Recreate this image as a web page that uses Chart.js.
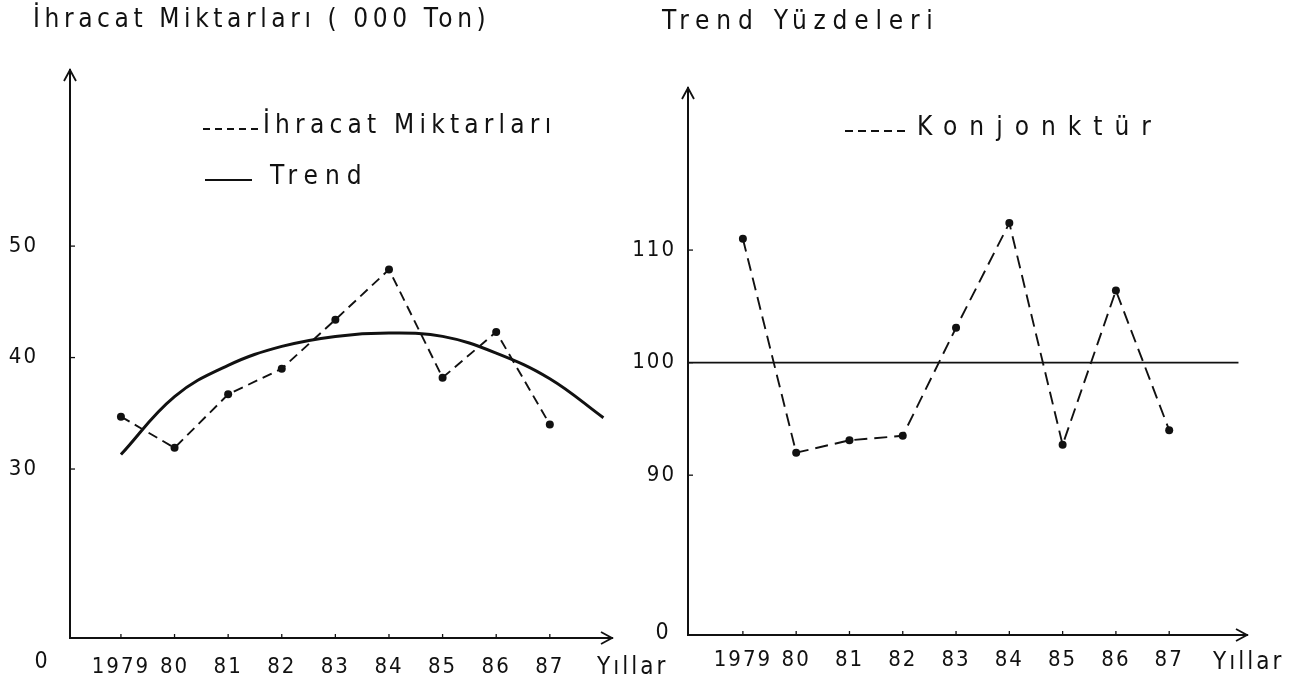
<!DOCTYPE html>
<html>
<head>
<meta charset="utf-8">
<script src="https://cdn.jsdelivr.net/npm/chart.js@4.4.1/dist/chart.umd.min.js"></script>
<style>
  html, body { margin: 0; padding: 0; background: #fff; }
  #wrap { position: relative; width: 1298px; height: 690px; overflow: hidden; }
  canvas { position: absolute; top: 0; }
</style>
</head>
<body>
<div id="wrap">
  <canvas id="leftChart" width="700" height="690" style="left:0"></canvas>
  <canvas id="rightChart" width="708" height="690" style="left:590px"></canvas>
</div>
<script>
// values
var years = [1979, 1980, 1981, 1982, 1983, 1984, 1985, 1986, 1987];
var yearLabels = ['1979', '80', '81', '82', '83', '84', '85', '86', '87'];
var ihracat = [34.7, 31.9, 36.7, 39.0, 43.4, 47.9, 38.2, 42.3, 34.0];
var trendYears = [1979, 1980, 1981, 1982, 1983, 1984, 1985, 1986, 1987, 1988];
var trend = [31.3, 36.5, 39.3, 41.0, 41.9, 42.2, 41.9, 40.4, 38.1, 34.6];
var konjonktur = [111.0, 92.0, 93.1, 93.5, 103.1, 112.4, 92.7, 106.4, 94.0];
var baseYears = [1977.97, 1988.3];
var baseValues = [100, 100];
var leftTicks = [30, 40, 50];
var rightTicks = [90, 100, 110];

var FONT = "'Liberation Sans Narrow', 'DejaVu Sans Condensed', 'DejaVu Sans', sans-serif";
var INK = '#111';

function spaced(ctx, text, x, y, size, spacing, align) {
  ctx.save();
  ctx.font = size + 'px ' + FONT;
  ctx.letterSpacing = spacing + 'px';
  ctx.textAlign = align || 'left';
  ctx.textBaseline = 'middle';
  ctx.fillStyle = INK;
  ctx.fillText(text, x, y);
  ctx.restore();
}

function line(ctx, pts, w, dash) {
  ctx.save();
  ctx.strokeStyle = INK;
  ctx.lineWidth = w;
  ctx.setLineDash(dash || []);
  ctx.beginPath();
  ctx.moveTo(pts[0][0], pts[0][1]);
  for (var i = 1; i < pts.length; i++) ctx.lineTo(pts[i][0], pts[i][1]);
  ctx.stroke();
  ctx.restore();
}

// arrows, titles, legends and the extra axis texts
function decor(opts) {
  return {
    id: 'decor',
    beforeDraw: function (chart) {
      chart.ctx.letterSpacing = '2px';
    },
    afterDraw: function (chart) {
      var ctx = chart.ctx, a = chart.chartArea;
      var xs = chart.scales.x, ys = chart.scales.y;
      // arrow heads
      line(ctx, [[a.left - 6, a.top + 11], [a.left, a.top], [a.left + 6, a.top + 11]], 1.8);
      line(ctx, [[a.right - 11, a.bottom - 6], [a.right, a.bottom], [a.right - 11, a.bottom + 6]], 1.8);
      // small tick marks
      years.forEach(function (v) {
        var px = xs.getPixelForValue(v);
        line(ctx, [[px, a.bottom], [px, a.bottom - 4]], 1.3);
      });
      opts.yTicks.forEach(function (v) {
        var py = ys.getPixelForValue(v);
        line(ctx, [[a.left, py], [a.left + 5, py]], 1.3);
      });
      ctx.letterSpacing = '0px';
      spaced(ctx, opts.title, opts.titleX, opts.titleY, 26, opts.titleSp);
      opts.legend.forEach(function (l) {
        line(ctx, [[l.x0, l.y + 3], [l.x1, l.y + 3]], 1.8, l.dash);
        spaced(ctx, l.text, l.tx, l.y, 26, l.sp);
      });
      spaced(ctx, 'Yıllar', a.right + opts.yearsDx, opts.yearsY, 24, 3);
      spaced(ctx, '0', opts.zeroX, opts.zeroY, 23, 0, 'center');
    }
  };
}

function baseOptions(xMin, xMax, yMin, yMax, yTicks, yWidth, xHeight, pad, yPad, xPad) {
  return {
    responsive: false,
    animation: false,
    layout: { autoPadding: false, padding: pad },
    plugins: { legend: { display: false }, tooltip: { enabled: false } },
    scales: {
      x: {
        type: 'linear', min: xMin, max: xMax,
        grid: { display: false, drawTicks: false },
        border: { display: true, color: INK, width: 2 },
        afterFit: function (s) { s.height = xHeight; },
        afterBuildTicks: function (s) { s.ticks = years.map(function (v) { return { value: v }; }); },
        ticks: {
          autoSkip: false, maxRotation: 0, padding: xPad, color: INK,
          font: { family: FONT, size: 22 },
          callback: function (v) { return yearLabels[years.indexOf(v)]; }
        }
      },
      y: {
        type: 'linear', min: yMin, max: yMax,
        grid: { display: false, drawTicks: false },
        border: { display: true, color: INK, width: 2 },
        afterFit: function (s) { s.width = yWidth; },
        afterBuildTicks: function (s) { s.ticks = yTicks.map(function (v) { return { value: v }; }); },
        ticks: {
          padding: yPad, color: INK,
          font: { family: FONT, size: 22 },
          callback: function (v) { return String(v); }
        }
      }
    }
  };
}

new Chart(document.getElementById('leftChart'), {
  type: 'line',
  data: {
    datasets: [{
      label: 'İhracat Miktarları',
      data: years.map(function (y, i) { return { x: y, y: ihracat[i] }; }),
      borderColor: INK, borderWidth: 1.9, borderDash: [10, 6],
      pointRadius: 4, pointBackgroundColor: INK, pointBorderWidth: 0,
      tension: 0
    }, {
      label: 'Trend',
      data: trendYears.map(function (y, i) { return { x: y, y: trend[i] }; }),
      borderColor: INK, borderWidth: 3,
      pointRadius: 0, tension: 0.4
    }]
  },
  options: baseOptions(1978.05, 1988.16, 14.84, 65.8, leftTicks, 70, 52,
    { left: 0, top: 70, right: 88, bottom: 0 }, 32, 16),
  plugins: [decor({
    yTicks: leftTicks,
    title: 'İhracat Miktarları ( 000 Ton)', titleX: 33, titleY: 20, titleSp: 4.6,
    legend: [
      { text: 'İhracat Miktarları', x0: 203, x1: 260, y: 126, dash: [7, 5], tx: 263, sp: 5.2 },
      { text: 'Trend', x0: 205, x1: 252, y: 177, dash: [], tx: 270, sp: 7 }
    ],
    yearsDx: -15, yearsY: 668, zeroX: 41, zeroY: 662
  })]
});

new Chart(document.getElementById('rightChart'), {
  type: 'line',
  data: {
    datasets: [{
      label: 'Konjonktür',
      data: years.map(function (y, i) { return { x: y, y: konjonktur[i] }; }),
      borderColor: INK, borderWidth: 1.9, borderDash: [13, 7],
      pointRadius: 4, pointBackgroundColor: INK, pointBorderWidth: 0,
      tension: 0
    }, {
      label: '100',
      data: baseYears.map(function (y, i) { return { x: y, y: baseValues[i] }; }),
      borderColor: INK, borderWidth: 1.8,
      pointRadius: 0, tension: 0
    }]
  },
  options: baseOptions(1977.97, 1988.46, 75.8, 124.4, rightTicks, 98, 55,
    { left: 0, top: 88, right: 51, bottom: 0 }, 12, 12),
  plugins: [decor({
    yTicks: rightTicks,
    title: 'Trend Yüzdeleri', titleX: 72, titleY: 22, titleSp: 6.8,
    legend: [
      { text: 'Konjonktür', x0: 255, x1: 315, y: 128, dash: [8, 5], tx: 327, sp: 12 }
    ],
    yearsDx: -34, yearsY: 663, zeroX: 72, zeroY: 633
  })]
});
</script>
</body>
</html>
